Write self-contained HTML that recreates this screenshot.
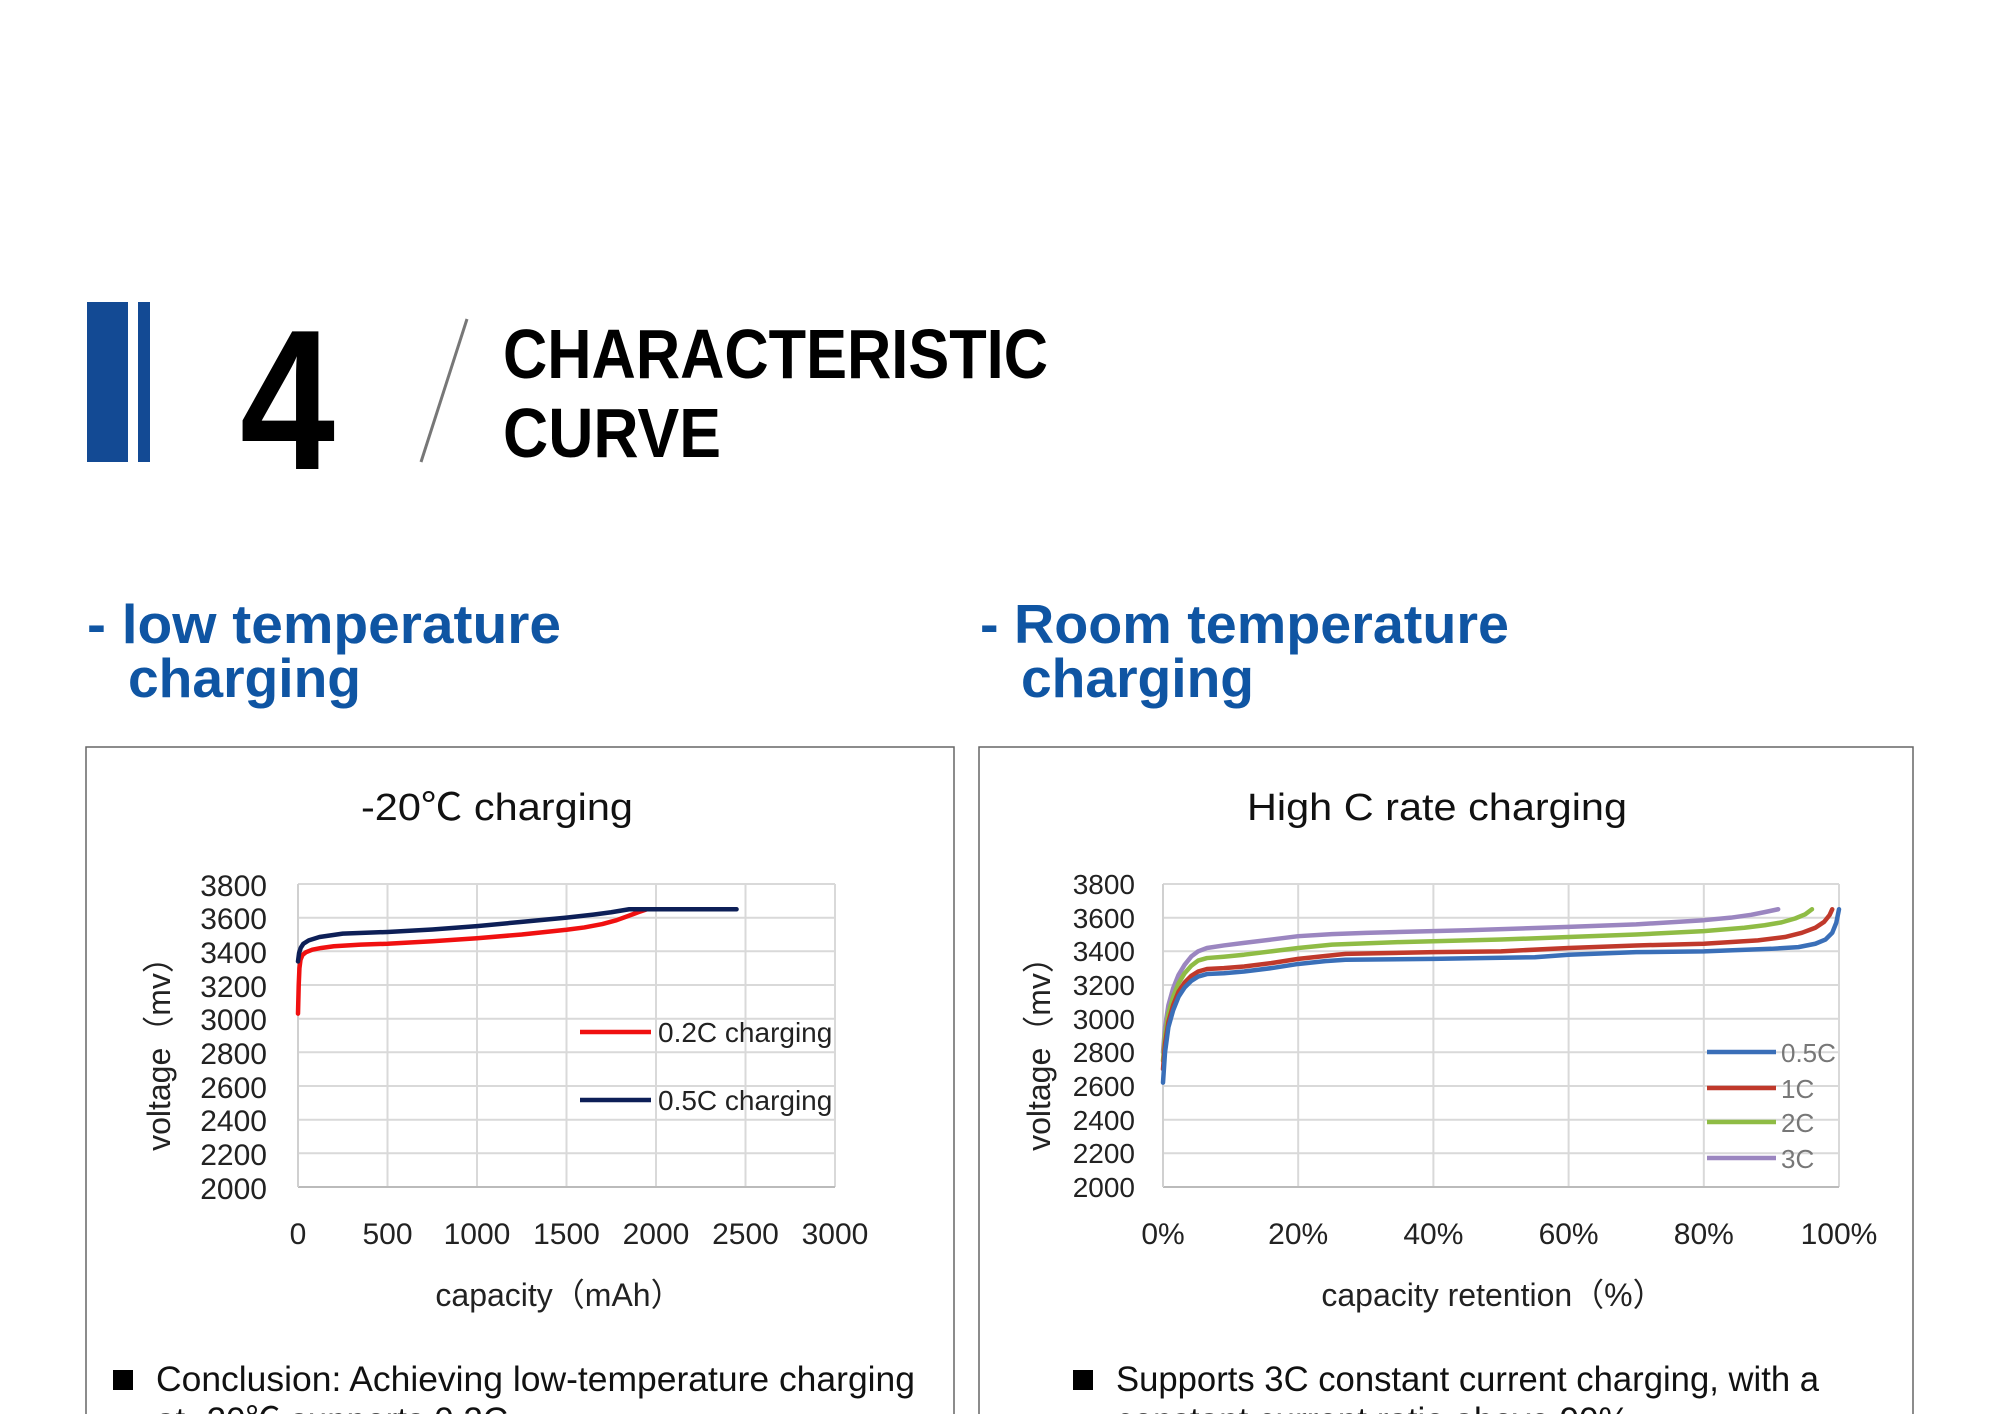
<!DOCTYPE html>
<html><head><meta charset="utf-8"><style>
html,body{margin:0;padding:0;background:#fff;width:2000px;height:1414px;overflow:hidden}
svg{display:block}
text{font-family:"Liberation Sans","Noto Sans CJK SC",sans-serif}
</style></head><body>
<svg width="2000" height="1414" viewBox="0 0 2000 1414" xmlns="http://www.w3.org/2000/svg">
<rect width="2000" height="1414" fill="#fff"/>
<rect x="87" y="302" width="41" height="160" fill="#134a94"/>
<rect x="138" y="302" width="12" height="160" fill="#134a94"/>
<text x="240" y="469" font-size="200" font-weight="bold" textLength="95" lengthAdjust="spacingAndGlyphs" fill="#000">4</text>
<line x1="467" y1="319" x2="421" y2="462" stroke="#777" stroke-width="3"/>
<text x="503" y="378" font-size="70" font-weight="bold" textLength="545" lengthAdjust="spacingAndGlyphs" fill="#000">CHARACTERISTIC</text>
<text x="503" y="457" font-size="70" font-weight="bold" textLength="218" lengthAdjust="spacingAndGlyphs" fill="#000">CURVE</text>
<g fill="#0f55a3" font-weight="bold" font-size="55">
<text x="87" y="643" textLength="474" lengthAdjust="spacingAndGlyphs">- low temperature</text>
<text x="128" y="697" textLength="233" lengthAdjust="spacingAndGlyphs">charging</text>
<text x="980" y="643" textLength="529" lengthAdjust="spacingAndGlyphs">- Room temperature</text>
<text x="1021" y="697" textLength="233" lengthAdjust="spacingAndGlyphs">charging</text>
</g>
<rect x="86" y="747" width="868" height="700" fill="none" stroke="#666" stroke-width="1.5"/>
<rect x="979" y="747" width="934" height="700" fill="none" stroke="#666" stroke-width="1.5"/>

<text x="497" y="820" font-size="38" text-anchor="middle" textLength="272" lengthAdjust="spacingAndGlyphs" fill="#111">-20℃ charging</text>
<g stroke="#d9d9d9" stroke-width="2">
<line x1="298" y1="884" x2="835" y2="884"/><line x1="298" y1="917.7" x2="835" y2="917.7"/><line x1="298" y1="951.3" x2="835" y2="951.3"/><line x1="298" y1="985" x2="835" y2="985"/><line x1="298" y1="1018.7" x2="835" y2="1018.7"/><line x1="298" y1="1052.3" x2="835" y2="1052.3"/><line x1="298" y1="1086" x2="835" y2="1086"/><line x1="298" y1="1119.7" x2="835" y2="1119.7"/><line x1="298" y1="1153.3" x2="835" y2="1153.3"/>
<line x1="387.5" y1="884" x2="387.5" y2="1187"/><line x1="477" y1="884" x2="477" y2="1187"/><line x1="566.5" y1="884" x2="566.5" y2="1187"/><line x1="656" y1="884" x2="656" y2="1187"/><line x1="745.5" y1="884" x2="745.5" y2="1187"/><line x1="835" y1="884" x2="835" y2="1187"/>
</g>
<line x1="298" y1="1187" x2="835" y2="1187" stroke="#bbb" stroke-width="2"/>
<line x1="298" y1="884" x2="298" y2="1187" stroke="#d0d0d0" stroke-width="2"/>
<g font-size="30" fill="#222" text-anchor="end">
<text x="267" y="896">3800</text><text x="267" y="929">3600</text><text x="267" y="963">3400</text><text x="267" y="997">3200</text><text x="267" y="1030">3000</text><text x="267" y="1064">2800</text><text x="267" y="1098">2600</text><text x="267" y="1131">2400</text><text x="267" y="1165">2200</text><text x="267" y="1199">2000</text>
</g>
<g font-size="30" fill="#222" text-anchor="middle">
<text x="298" y="1244">0</text><text x="387.5" y="1244">500</text><text x="477" y="1244">1000</text><text x="566.5" y="1244">1500</text><text x="656" y="1244">2000</text><text x="745.5" y="1244">2500</text><text x="835" y="1244">3000</text>
</g>
<text x="559" y="1306" font-size="32" text-anchor="middle" fill="#222">capacity（mAh）</text>
<text transform="translate(170,1046) rotate(-90)" font-size="32" text-anchor="middle" fill="#222">voltage（mv）</text>
<g transform="translate(298,1187) scale(0.179,-0.168333) translate(0,-2000)" fill="none" stroke-linejoin="round" stroke-linecap="round">
<polyline vector-effect="non-scaling-stroke" stroke="#f01010" stroke-width="4.5" points="0,3030 4,3200 8,3300 14,3350 25,3378 45,3395 80,3410 130,3420 200,3430 350,3440 500,3445 750,3460 1000,3478 1250,3500 1500,3528 1600,3542 1700,3562 1780,3585 1850,3612 1900,3632 1950,3650"/>
<polyline vector-effect="non-scaling-stroke" stroke="#0d1f57" stroke-width="4.5" points="0,3340 6,3390 15,3420 30,3445 60,3465 120,3485 250,3505 500,3515 750,3530 1000,3550 1250,3575 1500,3600 1650,3618 1750,3632 1850,3650 1950,3650 2450,3650"/>
</g>
<line x1="580" y1="1032" x2="651" y2="1032" stroke="#f01010" stroke-width="4.5"/>
<text x="658" y="1042" font-size="28" fill="#222">0.2C charging</text>
<line x1="580" y1="1100" x2="651" y2="1100" stroke="#0d1f57" stroke-width="4.5"/>
<text x="658" y="1110" font-size="28" fill="#222">0.5C charging</text>
<rect x="113" y="1370" width="20" height="20" fill="#000"/>
<text x="156" y="1391" font-size="35" textLength="759" lengthAdjust="spacingAndGlyphs" fill="#111">Conclusion: Achieving low-temperature charging</text>
<text x="156" y="1432" font-size="35" fill="#111">at -20℃ supports 0.2C</text>

<text x="1437" y="820" font-size="38" text-anchor="middle" textLength="380" lengthAdjust="spacingAndGlyphs" fill="#111">High C rate charging</text>
<g stroke="#d9d9d9" stroke-width="2">
<line x1="1163" y1="884" x2="1839" y2="884"/><line x1="1163" y1="917.7" x2="1839" y2="917.7"/><line x1="1163" y1="951.3" x2="1839" y2="951.3"/><line x1="1163" y1="985" x2="1839" y2="985"/><line x1="1163" y1="1018.7" x2="1839" y2="1018.7"/><line x1="1163" y1="1052.3" x2="1839" y2="1052.3"/><line x1="1163" y1="1086" x2="1839" y2="1086"/><line x1="1163" y1="1119.7" x2="1839" y2="1119.7"/><line x1="1163" y1="1153.3" x2="1839" y2="1153.3"/>
<line x1="1298.2" y1="884" x2="1298.2" y2="1187"/><line x1="1433.4" y1="884" x2="1433.4" y2="1187"/><line x1="1568.6" y1="884" x2="1568.6" y2="1187"/><line x1="1703.8" y1="884" x2="1703.8" y2="1187"/><line x1="1839" y1="884" x2="1839" y2="1187"/>
</g>
<line x1="1163" y1="1187" x2="1839" y2="1187" stroke="#bbb" stroke-width="2"/>
<line x1="1163" y1="884" x2="1163" y2="1187" stroke="#d0d0d0" stroke-width="2"/>
<g font-size="28" fill="#222" text-anchor="end">
<text x="1135" y="894">3800</text><text x="1135" y="928">3600</text><text x="1135" y="961">3400</text><text x="1135" y="995">3200</text><text x="1135" y="1029">3000</text><text x="1135" y="1062">2800</text><text x="1135" y="1096">2600</text><text x="1135" y="1130">2400</text><text x="1135" y="1163">2200</text><text x="1135" y="1197">2000</text>
</g>
<g font-size="30" fill="#222" text-anchor="middle">
<text x="1163" y="1244">0%</text><text x="1298.2" y="1244">20%</text><text x="1433.4" y="1244">40%</text><text x="1568.6" y="1244">60%</text><text x="1703.8" y="1244">80%</text><text x="1839" y="1244">100%</text>
</g>
<text x="1493" y="1306" font-size="32" text-anchor="middle" fill="#222">capacity retention（%）</text>
<text transform="translate(1050,1046) rotate(-90)" font-size="32" text-anchor="middle" fill="#222">voltage（mv）</text>
<g transform="translate(1163,1187) scale(6.76,-0.168333) translate(0,-2000)" fill="none" stroke-linejoin="round" stroke-linecap="round">
<polyline vector-effect="non-scaling-stroke" stroke="#9b86c0" stroke-width="4.5" points="0,2800 0.3,2950 0.8,3080 1.5,3180 2.3,3260 3.2,3320 4.2,3370 5.2,3400 6.5,3420 9,3435 12,3450 16,3470 20,3490 25,3502 30,3510 45,3525 60,3545 70,3560 80,3585 84,3600 87,3617 89,3633 91,3650"/>
<polyline vector-effect="non-scaling-stroke" stroke="#8fbc45" stroke-width="4.5" points="0,2750 0.3,2900 0.8,3030 1.5,3130 2.3,3210 3.2,3270 4.2,3315 5.2,3345 6.5,3360 9,3368 12,3380 16,3400 20,3420 25,3440 35,3455 50,3470 60,3485 70,3500 80,3520 86,3540 89,3555 91.5,3572 93.5,3595 95,3620 96,3650"/>
<polyline vector-effect="non-scaling-stroke" stroke="#c0392b" stroke-width="4.5" points="0,2700 0.3,2850 0.8,2980 1.5,3080 2.3,3160 3.2,3215 4.2,3255 5.2,3280 6.5,3295 9,3300 12,3310 16,3330 20,3355 24,3372 27,3385 40,3395 50,3400 60,3420 70,3435 80,3445 88,3465 92,3485 94.5,3510 96.5,3540 97.8,3575 98.6,3615 99,3650"/>
<polyline vector-effect="non-scaling-stroke" stroke="#3a6fb8" stroke-width="4.5" points="0,2620 0.3,2800 0.8,2950 1.5,3050 2.3,3130 3.2,3185 4.2,3225 5.2,3250 6.5,3265 9,3270 12,3280 16,3300 20,3325 24,3342 27,3350 40,3355 55,3365 60,3380 70,3395 80,3400 90,3415 94,3425 96.5,3445 98,3470 99,3510 99.6,3570 100,3650"/>
</g>
<g stroke-width="4.5">
<line x1="1707" y1="1052" x2="1776" y2="1052" stroke="#3a6fb8"/>
<line x1="1707" y1="1088" x2="1776" y2="1088" stroke="#c0392b"/>
<line x1="1707" y1="1122" x2="1776" y2="1122" stroke="#8fbc45"/>
<line x1="1707" y1="1158" x2="1776" y2="1158" stroke="#9b86c0"/>
</g>
<g font-size="26" fill="#777">
<text x="1781" y="1062">0.5C</text><text x="1781" y="1098">1C</text><text x="1781" y="1132">2C</text><text x="1781" y="1168">3C</text>
</g>
<rect x="1073" y="1370" width="20" height="20" fill="#000"/>
<text x="1116" y="1391" font-size="35" textLength="703" lengthAdjust="spacingAndGlyphs" fill="#111">Supports 3C constant current charging, with a</text>
<text x="1116" y="1432" font-size="35" fill="#111">constant current ratio above 90%</text>
</svg>
</body></html>
